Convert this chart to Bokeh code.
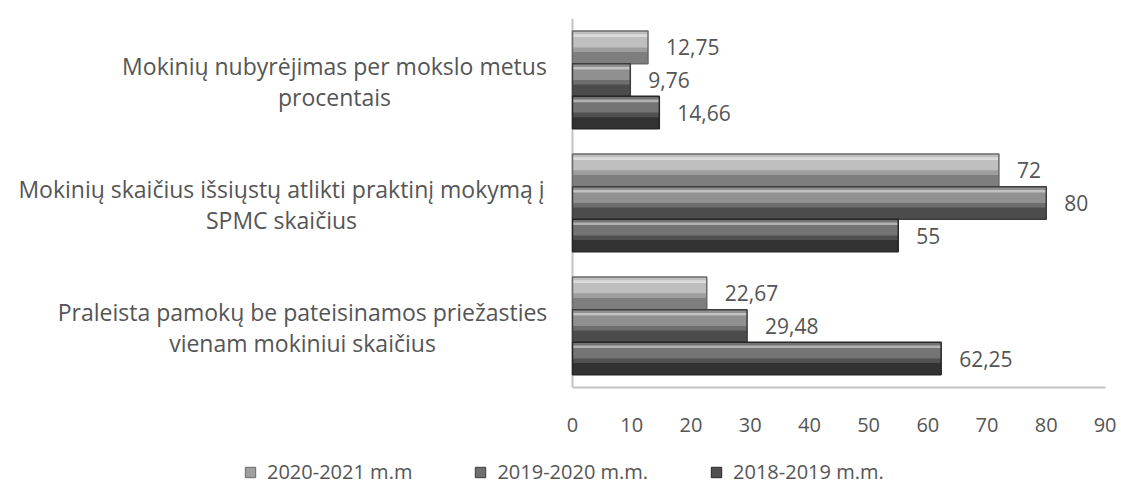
from bokeh.plotting import figure
from bokeh.layouts import column
from bokeh.models import Range1d, FixedTicker, Legend, LegendItem, ColumnDataSource
from bokeh.embed import file_html
from bokeh.resources import INLINE
from bokeh.core.properties import value

# ---- data ----
categories = [
    "Praleista pamokų be pateisinamos priežasties\nvienam mokiniui skaičius",
    "Mokinių skaičius išsiųstų atlikti praktinį mokymą į\nSPMC skaičius",
    "Mokinių nubyrėjimas per mokslo metus\nprocentais",
]
series = ["2020-2021 m.m", "2019-2020 m.m.", "2018-2019 m.m."]
v_2020_2021 = [22.67, 72, 12.75]
v_2019_2020 = [29.48, 80, 9.76]
v_2018_2019 = [62.25, 55, 14.66]
x_ticks = [0, 10, 20, 30, 40, 50, 60, 70, 80, 90]

values = [v_2020_2021, v_2019_2020, v_2018_2019]
offsets = [0.265, 0.0, -0.265]
bar_h = 0.265
FONT = "Open Sans"
TXT = "#555555"
AXIS = "#c4c4c4"

# colours per series: base, top highlight, bottom shade, edge
palettes = [
    ("#9e9e9e", "#cacaca", "#7e7e7e", "#6a6a6a"),
    ("#6e6e6e", "#9c9c9c", "#4c4c4c", "#3c3c3c"),
    ("#505050", "#808080", "#323232", "#262626"),
]

# frame spans the whole width; value 0 sits at 572 px, value 90 at 1105 px
px_per_unit = (1105 - 572) / 90.0
W, H = 1116, 446
p = figure(width=W, height=H,
           x_range=Range1d(-572 / px_per_unit, (W - 572) / px_per_unit),
           y_range=Range1d(-0.025, 3),
           output_backend="svg", toolbar_location=None,
           min_border_left=0, min_border_right=0, min_border_top=18,
           min_border_bottom=H - 390)
p.xgrid.visible = False
p.ygrid.visible = False
p.yaxis.visible = False
p.outline_line_color = None
p.background_fill_color = "white"
p.border_fill_color = "white"

# axis lines of the value area
p.segment(x0=[0, 0], y0=[0, 0], x1=[x_ticks[-1], 0], y1=[0, 3],
          line_color=AXIS, line_width=2)

for s, vals, off, pal in zip(series, values, offsets, palettes):
    base, top, bot, edge = pal
    ys = [i + 0.5 + off for i in range(len(vals))]
    src = ColumnDataSource(dict(y=ys, right=vals,
                                ytop=[y + bar_h * 0.25 for y in ys],
                                ybot=[y - bar_h * 0.32 for y in ys],
                                yline=[y + bar_h * 0.36 for y in ys],
                                lab=[f"{v:g}".replace(".", ",") for v in vals]))
    p.hbar(y="y", left=0, right="right", height=bar_h, source=src,
           fill_color=base, line_color=None)
    p.hbar(y="ytop", left=0, right="right", height=bar_h * 0.5, source=src,
           fill_color=top, fill_alpha=0.75, line_color=None)
    p.hbar(y="ybot", left=0, right="right", height=bar_h * 0.36, source=src,
           fill_color=bot, line_color=None)
    p.hbar(y="yline", left=0, right="right", height=bar_h * 0.08, source=src,
           fill_color="white", fill_alpha=0.45, line_color=None)
    p.hbar(y="y", left=0, right="right", height=bar_h, source=src,
           fill_color=None, line_color=edge, line_width=1.5)
    p.text(x="right", y="y", text="lab", source=src, x_offset=18,
           text_baseline="middle", text_align="left",
           text_font=value(FONT), text_font_size="21px", text_color=TXT)

# category labels: two centred lines per category
centers_px = [302, 281, 334]
line1 = [c.split("\n")[0] for c in categories]
line2 = [c.split("\n")[1] for c in categories]
cat_y = [i + 0.5 for i in range(len(categories))]
for lines, dy in ((line1, -14), (line2, 17)):
    for t, y, c in zip(lines, cat_y, centers_px):
        p.text(x=[0], y=[y], text=[t], x_offset=c - 572, y_offset=dy,
               text_align="center", text_baseline="middle",
               text_font=value(FONT), text_font_size="23px", text_color=TXT)

# value axis (line hidden, drawn above as segment)
p.xaxis.ticker = FixedTicker(ticks=x_ticks)
p.xaxis.major_tick_line_color = None
p.xaxis.minor_tick_line_color = None
p.xaxis.axis_line_color = None
p.xaxis.major_label_standoff = 21
p.xaxis.major_label_text_font = FONT
p.xaxis.major_label_text_font_size = "20px"
p.xaxis.major_label_text_color = TXT

# legend strip below the chart
lg = figure(width=W, height=39, x_range=Range1d(0, 1), y_range=Range1d(0, 1),
            output_backend="svg", toolbar_location=None,
            min_border_left=0, min_border_right=0, min_border_top=0, min_border_bottom=0)
lg.axis.visible = False
lg.grid.visible = False
lg.outline_line_color = None
items = []
for s, pal in zip(series, palettes):
    # a marker placed outside the visible range, only used for its legend swatch
    r = lg.scatter(x=[-5], y=[-5], marker="square", size=11,
                   fill_color=pal[0], line_color=pal[3])
    items.append(LegendItem(label=s, renderers=[r]))
legend = Legend(items=items, orientation="horizontal", location=(237, 0),
                glyph_width=26, glyph_height=26, spacing=55, padding=0, margin=0,
                label_standoff=4,
                label_text_font=FONT, label_text_font_size="20px", label_text_color=TXT,
                border_line_color=None, background_fill_alpha=0)
lg.add_layout(legend, "center")

layout = column(p, lg, spacing=0)
open("out.html", "w").write(file_html(layout, INLINE))
